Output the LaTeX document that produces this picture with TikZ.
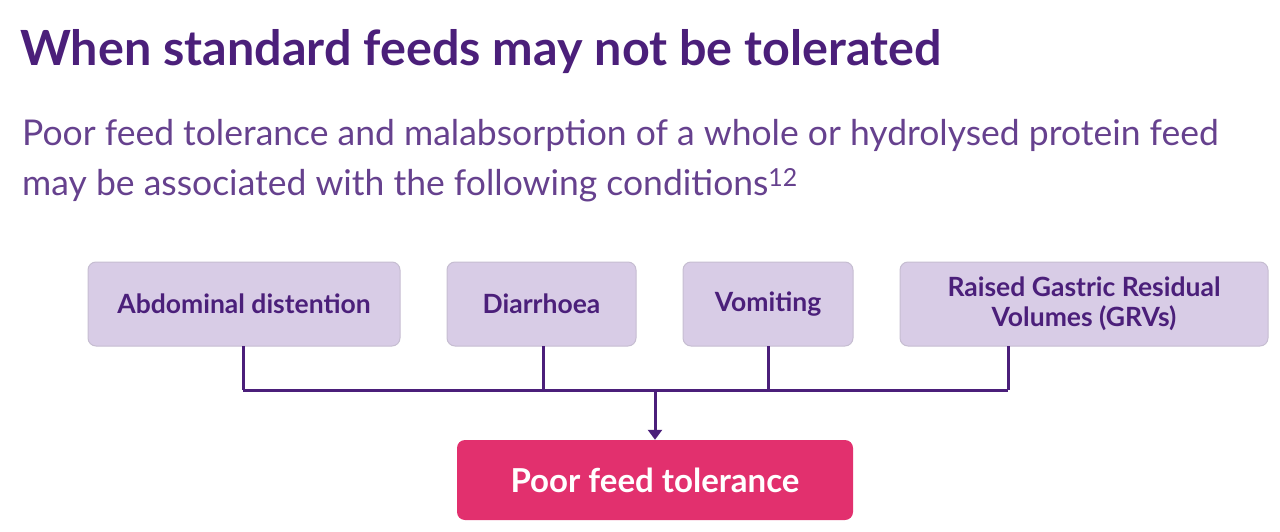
\documentclass[tikz,border=0pt]{standalone}
\usepackage{fontspec}
\setmainfont{Lato}
\usetikzlibrary{arrows.meta}
\definecolor{dpurple}{HTML}{4B1F7A}
\definecolor{lav}{HTML}{D8CCE6}
\definecolor{pinkc}{HTML}{E2306E}
\begin{document}
\begin{tikzpicture}[x=1pt,y=-1pt,
  cond/.style={draw=lav!80!gray,fill=lav,rounded corners=8pt,line width=1pt,text=dpurple,font=\fontsize{26.5}{30}\selectfont\bfseries,align=center,inner sep=0pt},
  conn/.style={draw=dpurple,line width=3pt},
  subt/.style={anchor=base west,text=dpurple!85,font=\fontsize{35.5}{50}\selectfont,inner sep=0pt}]
\useasboundingbox (0,0) rectangle (1280,532);
\node[anchor=base west,text=dpurple,font=\fontsize{48.5}{54}\selectfont\bfseries,inner sep=0pt] (title) at (20,66) {When standard feeds may not be tolerated};
\node[subt] (sub1) at (22,146) {Poor feed tolerance and malabsorption of a whole or hydrolysed protein feed};
\node[subt] (sub2) at (22,196) {may be associated with the following conditions\textsuperscript{12}};
\node[cond,minimum width=312pt,minimum height=84pt] (a) at (244,304) {Abdominal distention};
\node[cond,minimum width=189pt,minimum height=84pt] (b) at (541.5,304) {Diarrhoea};
\node[cond,minimum width=170pt,minimum height=84pt] (c) at (768,304) {Vomiting};
\node[cond,minimum width=368pt,minimum height=84pt] (d) at (1084,304) {Raised Gastric Residual\\Volumes (GRVs)};
\node[fill=pinkc,rounded corners=8pt,minimum width=396pt,minimum height=80pt,text=white,font=\fontsize{33}{38}\selectfont\bfseries] (p) at (655,480) {Poor feed tolerance};
\coordinate (ja) at (243,390);
\coordinate (jd) at (1008,390);
\coordinate (jm) at (655,390);
\draw[conn] (243,346) -- (ja);
\draw[conn] (543,346) -- (543,390);
\draw[conn] (768,346) -- (768,390);
\draw[conn] (1008,346) -- (jd);
\draw[conn] (ja) -- (jd);
\draw[conn,-{Triangle[length=10pt,width=14pt]}] (jm) -- (p.north);
\end{tikzpicture}
\end{document}
